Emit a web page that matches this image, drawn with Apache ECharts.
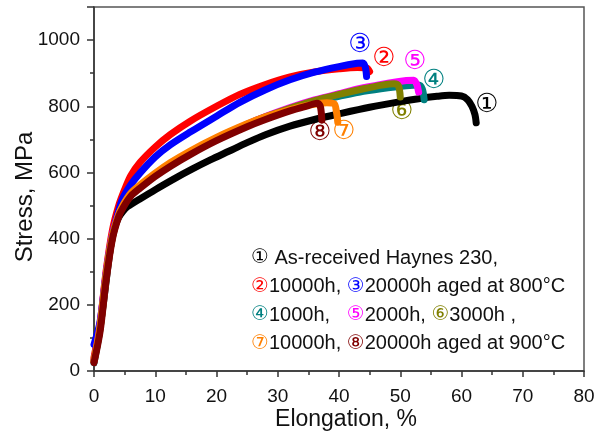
<!DOCTYPE html>
<html>
<head>
<meta charset="utf-8">
<script src="https://cdn.jsdelivr.net/npm/echarts@6/dist/echarts.min.js"></script>
<style>
  html, body { margin: 0; padding: 0; background: #fff; }
  #chart { width: 607px; height: 432px; }
</style>
</head>
<body>
<div id="chart"></div>
<script>
// stress-strain curves, [elongation %, stress MPa]
const curve1 = [[0, 30], [0.8, 110], [1.5, 200], [2.2, 305], [2.8, 385], [3.4, 435], [4, 463], [4.7, 482],
  [5.5, 497], [7.5, 520], [10, 548], [13, 580], [16, 610], [19, 638], [22, 664], [25, 690], [28, 714],
  [32, 740], [36, 760], [40, 777], [45, 797], [50, 814], [53, 823], [56, 830], [58, 833], [60, 831],
  [61, 820], [61.7, 800], [62.2, 775], [62.4, 750]]
const curve2 = [[0, 40], [1, 145], [2, 305], [3, 425], [4, 498], [5, 548], [6, 590], [7.5, 630], [10, 677],
  [12.5, 715], [15.7, 755], [20, 800], [23.8, 836], [28, 866], [32, 889], [36, 904], [40, 913], [43, 917],
  [44.5, 916], [45, 905]]
const curve3 = [[0, 80], [1, 150], [2, 295], [3, 410], [4, 482], [4.7, 522], [6, 563], [7.5, 598], [10, 647],
  [12.5, 684], [15.7, 722], [20, 770], [23.8, 812], [28, 850], [32, 880], [36, 903], [40, 920], [43, 930],
  [43.9, 931], [44.3, 918], [44.5, 890]]
const curve4 = [[0, 25], [1, 130], [2, 290], [3, 405], [4, 470], [4.7, 497], [6, 532], [7.5, 556], [10, 592],
  [12.5, 625], [15.7, 660], [20, 702], [25, 744], [28, 766], [32, 792], [36, 814], [40, 830], [44, 845],
  [48, 856], [51, 862], [53, 864], [53.6, 852], [53.9, 820]]
const curve5 = [[0, 30], [1, 140], [2, 300], [3, 412], [4, 472], [4.7, 498], [6, 533], [7.5, 557], [10, 593],
  [12.5, 626], [15.7, 662], [20, 704], [25, 746], [28, 769], [32, 796], [36, 819], [40, 838], [44, 856],
  [48, 870], [51, 878], [52.2, 879], [52.7, 866], [53, 843]]
const curve6 = [[0, 30], [1, 135], [2, 295], [3, 408], [4, 470], [4.7, 497], [6, 532], [7.5, 556], [10, 592],
  [12.5, 625], [15.7, 661], [20, 703], [25, 745], [28, 768], [32, 794], [36, 817], [40, 836], [44, 853],
  [47, 864], [49, 868], [49.7, 862], [50, 828]]
const curve7 = [[0, 30], [1, 130], [2, 288], [3, 403], [4, 470], [4.7, 500], [6, 537], [7.5, 562], [10, 598],
  [12.5, 630], [15.7, 665], [20, 706], [25, 747], [28, 768], [32, 790], [35, 803], [38, 811], [39.2, 808],
  [39.6, 782], [39.8, 752]]
const curve8 = [[0, 25], [1, 120], [2, 278], [3, 398], [4, 465], [4.7, 492], [6, 528], [7.5, 552], [10, 588],
  [12.5, 619], [15.7, 654], [20, 696], [25, 738], [28, 760], [32, 786], [35, 802], [36.4, 809], [36.9, 802],
  [37.1, 782], [37.2, 758]]

const curves = [curve1, curve2, curve3, curve4, curve5, curve6, curve7, curve8]
const colors = ['#000000', '#ff0000', '#0000ff', '#008080', '#ff00ff', '#808000', '#ff8000', '#800000']
const marks = ['①', '②', '③', '④', '⑤', '⑥', '⑦', '⑧']

const chart = echarts.init(document.getElementById('chart'))
const axisColor = '#333'
const font = 'Liberation Sans, Arial, sans-serif'
const circleFont = 'DejaVu Sans, Noto Sans CJK SC, sans-serif'

// rich styles for the coloured circled numbers in the key
const rich = {}
colors.forEach((c, i) => {
  rich['c' + (i + 1)] = { fontFamily: circleFont, fontSize: 20, fill: c }
})

const keyLines = [
  '{c1|①} As-received Haynes 230,',
  '{c2|②}10000h, {c3|③}20000h aged at 800°C',
  '{c4|④}1000h,   {c5|⑤}2000h, {c6|⑥}3000h ,',
  '{c7|⑦}10000h, {c8|⑧}20000h aged at 900°C'
]

// curve tags placed beside the curve ends (pixel positions)
const tagPos = [[487, 105], [384, 59], [360, 45], [434, 81], [415, 62], [402, 112], [344, 132], [320, 133]]

const graphic = []
keyLines.forEach((t, i) => {
  graphic.push({
    type: 'text',
    left: 251,
    top: 248 + i * 28.5,
    style: { text: t, rich: rich, font: '20px ' + font, fill: '#111' }
  })
})
tagPos.forEach((p, i) => {
  graphic.push({
    type: 'text',
    x: p[0],
    y: p[1],
    style: {
      text: marks[i],
      fontFamily: circleFont,
      fontSize: 26,
      fill: colors[i],
      align: 'center',
      verticalAlign: 'middle'
    }
  })
})

const option = {
  animation: false,
  backgroundColor: '#fff',
  grid: {
    left: 94,
    right: 23,
    top: 7,
    bottom: 61,
    outerBoundsMode: 'none',
    containLabel: false,
    show: true,
    borderColor: '#555',
    borderWidth: 1.5
  },
  xAxis: {
    type: 'value',
    min: 0,
    max: 80,
    interval: 10,
    name: 'Elongation, %',
    nameLocation: 'middle',
    nameGap: 37,
    nameMoveOverlap: false,
    nameTextStyle: { fontSize: 23, color: '#111', fontFamily: font, padding: [0, 0, 0, 14] },
    axisLine: { lineStyle: { color: axisColor, width: 1.5 } },
    axisTick: { length: 6, lineStyle: { color: axisColor, width: 1.5 } },
    minorTick: { show: true, splitNumber: 2, length: 4, lineStyle: { color: axisColor, width: 1.5 } },
    axisLabel: { fontSize: 19, color: '#111', fontFamily: font, margin: 16 },
    splitLine: { show: false }
  },
  yAxis: {
    type: 'value',
    min: 0,
    max: 1100,
    interval: 200,
    name: 'Stress, MPa',
    nameLocation: 'middle',
    nameGap: 57,
    nameMoveOverlap: false,
    nameTextStyle: { fontSize: 24, color: '#111', fontFamily: font, padding: [0, 16, 0, 0] },
    axisLine: { show: true, lineStyle: { color: axisColor, width: 1.5 } },
    axisTick: { show: true, length: 7, lineStyle: { color: axisColor, width: 1.5 } },
    minorTick: { show: true, splitNumber: 2, length: 4, lineStyle: { color: axisColor, width: 1.5 } },
    axisLabel: {
      fontSize: 19,
      color: '#111',
      fontFamily: font,
      margin: 14,
      formatter: v => (v > 1000 ? '' : String(v))
    },
    splitLine: { show: false }
  },
  series: curves.map((d, i) => ({
    name: marks[i],
    type: 'line',
    data: d,
    smooth: 0.3,
    showSymbol: false,
    lineStyle: { color: colors[i], width: 7, cap: 'round', join: 'round' },
    z: 2 + i
  })),
  graphic: graphic
}
chart.setOption(option)
</script>
</body>
</html>
